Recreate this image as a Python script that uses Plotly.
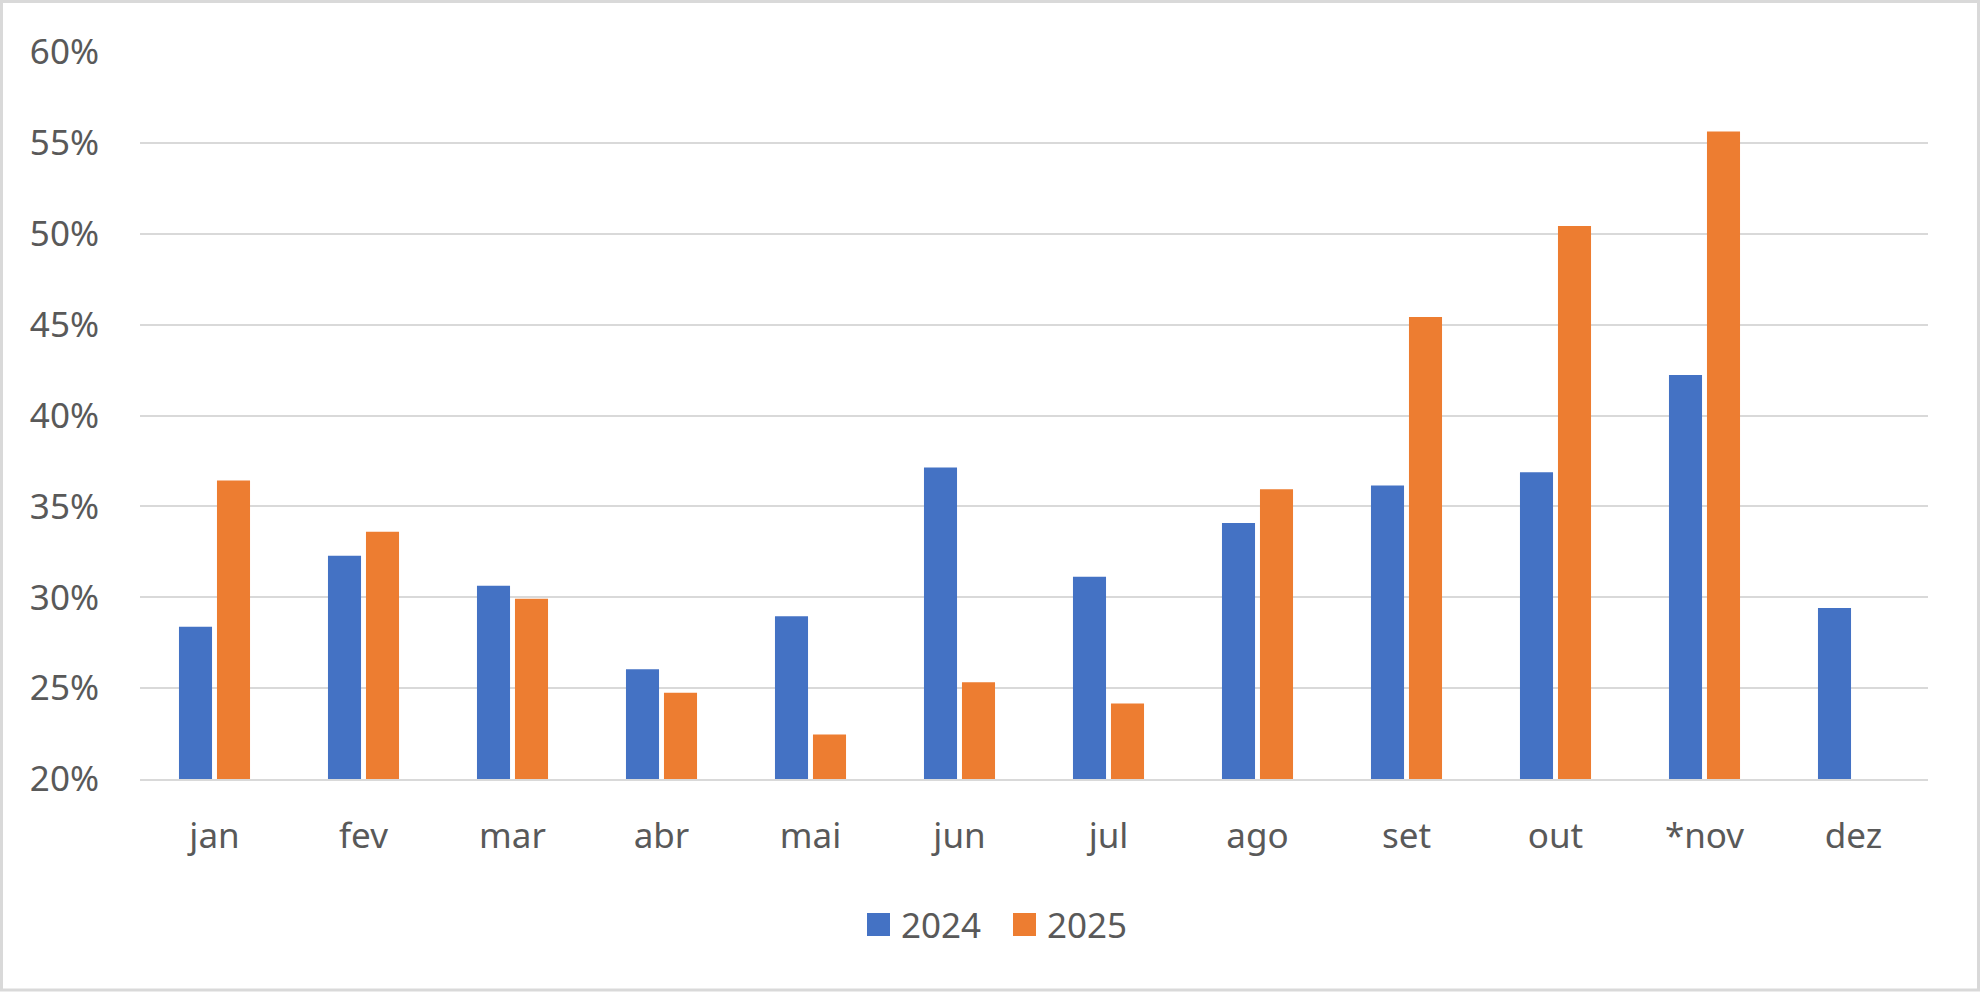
import plotly.graph_objects as go

months = ['jan', 'fev', 'mar', 'abr', 'mai', 'jun', 'jul', 'ago', 'set', 'out', '*nov', 'dez']
values_2024 = [0.2838, 0.3228, 0.3063, 0.2604, 0.2896, 0.3714, 0.3113, 0.3408, 0.3615, 0.3688, 0.4223, 0.2941]
values_2025 = [0.3643, 0.3360, 0.2992, 0.2475, 0.2245, 0.2533, 0.2415, 0.3594, 0.4542, 0.5042, 0.5563, None]
y_ticks = [0.20, 0.25, 0.30, 0.35, 0.40, 0.45, 0.50, 0.55, 0.60]
series_names = ['2024', '2025']

blue = '#4472c4'
orange = '#ed7d31'
grid_color = '#d9d9d9'
text_color = '#595959'
font_family = 'Noto Sans, Open Sans, sans-serif'

# plot area in page pixels: x 140..1928, y 52..779
W, H = 1980, 992
L, R, T, B = 140, 1928, 52, 779
pw, ph = R - L, B - T


def px(x):
    return (x - L) / pw


def py(y):
    return (B - y) / ph


fig = go.Figure()
fig.add_trace(go.Bar(x=months, y=values_2024, name=series_names[0], marker_color=blue,
                     marker_line_width=0, showlegend=False))
fig.add_trace(go.Bar(x=months, y=values_2025, name=series_names[1], marker_color=orange,
                     marker_line_width=0, showlegend=False))

fig.update_layout(
    width=W, height=H,
    margin=dict(l=L, r=W - R, t=T, b=H - B),
    paper_bgcolor='white', plot_bgcolor='white',
    barmode='group', bargap=0.49, bargroupgap=0.13,
    font=dict(family=font_family, size=35, color=text_color),
)
fig.update_yaxes(range=[0.20, 0.60], tickvals=y_ticks, tickformat='.0%',
                 showgrid=True, gridcolor=grid_color, gridwidth=2, zeroline=False,
                 ticks='outside', ticklen=33, tickcolor='rgba(0,0,0,0)', showline=False)
fig.update_xaxes(showgrid=False, showline=True, linecolor=grid_color, linewidth=2,
                 ticks='outside', ticklen=25, tickcolor='rgba(0,0,0,0)')

# legend drawn by hand so the swatches get Excel's size
legend_items = [(series_names[0], blue, 867), (series_names[1], orange, 1013)]
for name, color, x_left in legend_items:
    fig.add_shape(type='rect', xref='paper', yref='paper',
                  x0=px(x_left), x1=px(x_left + 23), y0=py(936), y1=py(913),
                  line_width=0, fillcolor=color)
    fig.add_annotation(xref='paper', yref='paper', x=px(x_left + 32), y=py(924.5),
                       text=name, showarrow=False, xanchor='left', yanchor='middle',
                       font=dict(size=35, color=text_color))

# chart area border
fig.add_shape(type='rect', xref='paper', yref='paper',
              x0=px(1.5), x1=px(1978.5), y0=py(990), y1=py(1.5),
              line=dict(color=grid_color, width=3), fillcolor='rgba(0,0,0,0)', layer='below')

fig.write_html('out.html', config={'displayModeBar': False},
               post_script="document.body.style.margin='0px';")
